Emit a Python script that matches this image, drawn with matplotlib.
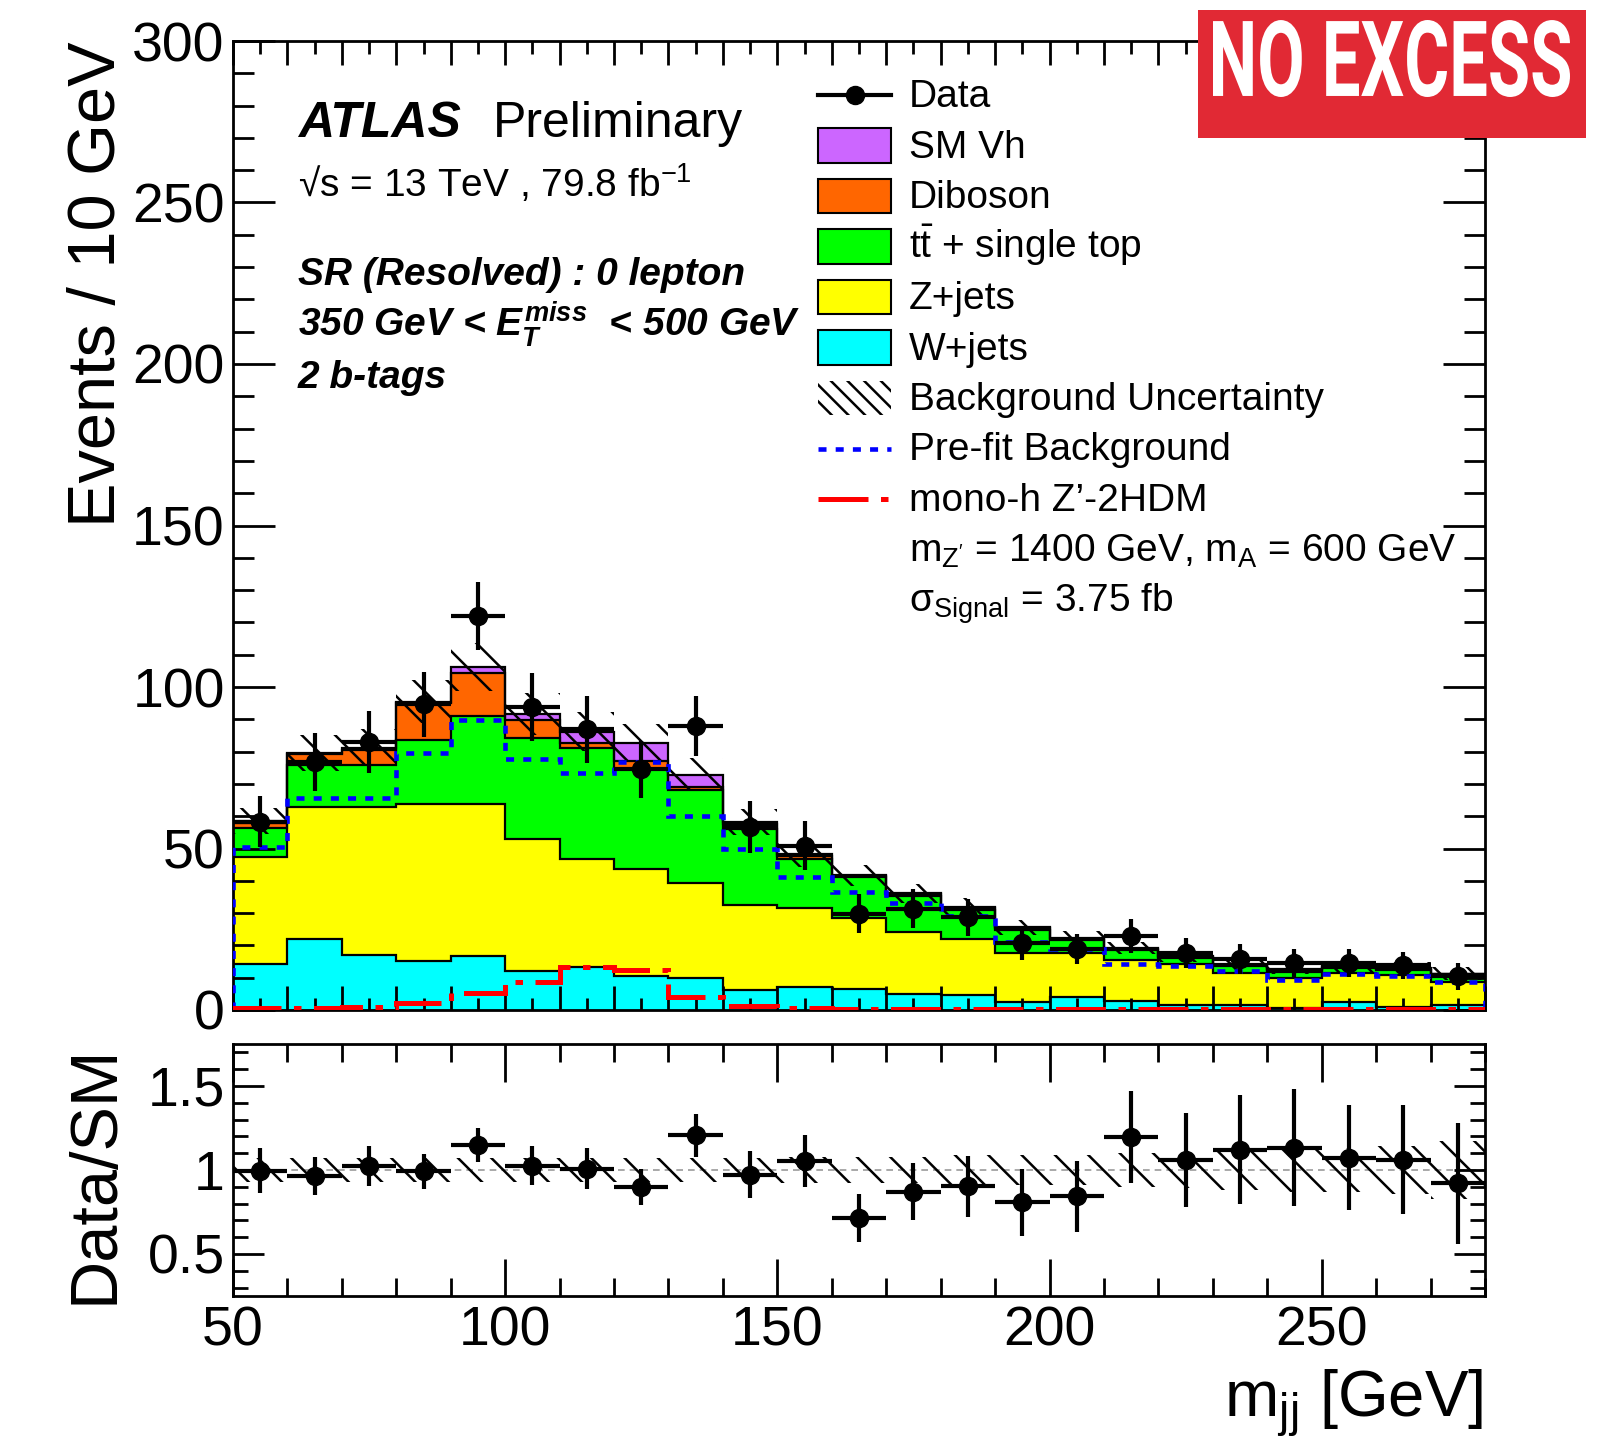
import numpy as np
import matplotlib
matplotlib.use("Agg")
import matplotlib.pyplot as plt
from matplotlib.patches import Rectangle, PathPatch
from matplotlib.lines import Line2D
from matplotlib.textpath import TextPath
from matplotlib.font_manager import FontProperties
from matplotlib.transforms import Affine2D, IdentityTransform
from matplotlib.ticker import MultipleLocator, FormatStrFormatter

# ---------------------------------------------------------------- data
bin_edges = list(range(50, 290, 10))          # m_jj bins [GeV]

wjets   = [14.2, 22.0, 16.9, 15.2, 16.8, 12.1, 13.2, 10.5, 9.8, 6.2, 7.1, 6.4,
           4.8, 4.5, 2.5, 4.0, 2.8, 1.7, 1.7, 0.7, 2.5, 1.0, 1.4]
zjets   = [33.3, 40.9, 46.0, 48.6, 47.0, 40.8, 33.4, 33.3, 29.4, 26.2, 24.4, 22.0,
           19.5, 17.4, 15.3, 13.6, 12.8, 12.4, 9.8, 9.2, 9.0, 9.7, 7.2]
ttbar   = [9.0, 13.0, 13.0, 19.8, 27.3, 31.2, 34.4, 30.7, 28.9, 23.7, 15.4, 12.8,
           11.0, 9.1, 7.0, 4.1, 3.1, 2.0, 2.0, 2.0, 1.5, 1.8, 2.4]
diboson = [1.5, 3.3, 4.6, 11.5, 13.3, 5.7, 1.8, 2.6, 1.0, 1.4, 0.9, 0.2,
           0.5, 0.5, 0.5, 0.3, 0.3, 0.3, 0.4, 0.5, 0.3, 0.3, 0.2]
smvh    = [0.5, 0.4, 0.7, 0.4, 1.7, 1.8, 3.4, 5.7, 3.7, 0.7, 0.4, 0.3,
           0.3, 0.3, 0.3, 0.3, 0.2, 0.2, 0.2, 0.3, 0.2, 0.2, 0.1]

prefit  = [50.6, 65.5, 65.5, 79.5, 89.8, 77.6, 73.3, 76.9, 60.1, 49.8, 41.2, 36.6,
           33.0, 29.0, 21.2, 18.9, 14.1, 13.5, 12.0, 9.4, 11.0, 10.5, 8.6]
signal  = [0.5, 0.5, 1.0, 2.1, 5.4, 8.8, 13.2, 12.4, 3.9, 1.2, 0.7, 0.4,
           0.3, 0.3, 0.2, 0.2, 0.2, 0.2, 0.2, 0.2, 0.2, 0.2, 0.2]

data    = [58.3, 76.9, 83.1, 94.7, 122.0, 93.9, 86.9, 74.5, 87.9, 56.6, 50.8, 29.8,
           31.4, 28.7, 20.7, 18.8, 23.0, 17.6, 15.8, 14.4, 14.5, 13.8, 10.4]
# statistical uncertainty of data relative to the SM prediction
ratio_err = [0.135, 0.113, 0.118, 0.105, 0.10, 0.115, 0.12, 0.107, 0.128, 0.138,
             0.157, 0.143, 0.17, 0.18, 0.20, 0.21, 0.275, 0.28, 0.325, 0.35,
             0.315, 0.325, 0.36]
# relative background uncertainty
bkg_unc = [0.07, 0.07, 0.07, 0.07, 0.07, 0.07, 0.07, 0.07, 0.07, 0.07, 0.08, 0.08,
           0.08, 0.09, 0.09, 0.09, 0.10, 0.11, 0.12, 0.13, 0.13, 0.14, 0.17]

# ---------------------------------------------------------------- style
plt.rcParams["font.family"] = ["Liberation Sans", "DejaVu Sans"]
plt.rcParams["mathtext.fontset"] = "custom"
plt.rcParams["mathtext.rm"] = "Liberation Sans"
plt.rcParams["mathtext.it"] = "Liberation Sans:italic:bold"
plt.rcParams["mathtext.bf"] = "Liberation Sans:bold"
plt.rcParams["hatch.linewidth"] = 1.8

W, H, DPI = 1613, 1441, 100
fig = plt.figure(figsize=(W / DPI, H / DPI), dpi=DPI)


def fx(x):
    return x / W


def fy(y):
    return 1 - y / H


def axes_px(x0, y0, x1, y1):
    return fig.add_axes([fx(x0), fy(y1), (x1 - x0) / W, (y1 - y0) / H])


ax = axes_px(233, 41, 1485, 1010)
rax = axes_px(233, 1044, 1485, 1296)

edges = np.array(bin_edges, dtype=float)
centers = 0.5 * (edges[:-1] + edges[1:])
half = 0.5 * np.diff(edges)

SIG_LS = (0, (10, 2.5, 1.5, 2.5))
PRE_LS = (0, (1.75, 2.0))

# ---------------------------------------------------------------- main panel
layers = [(wjets, "#00ffff"), (zjets, "#ffff00"), (ttbar, "#00ff00"),
          (diboson, "#ff6600"), (smvh, "#cc66ff")]
base = np.zeros(len(centers))
for vals, col in layers:
    top = base + np.asarray(vals)
    ax.stairs(top, edges, baseline=base, fill=True, facecolor=col,
              edgecolor="none", lw=0, zorder=1)
    ax.stairs(top, edges, baseline=None, color="k", lw=1.6, zorder=2)
    base = top
total = base
unc = np.asarray(bkg_unc)

ax.stairs(total * (1 + unc), edges, baseline=total * (1 - unc), fill=True,
          facecolor="none", edgecolor="k", hatch="\\", lw=0, zorder=3)
ax.stairs(prefit, edges, color="#0000ff", lw=3.3, ls=PRE_LS, zorder=4)
ax.stairs(signal, edges, color="#ff0000", lw=3.6, ls=SIG_LS, zorder=4)

data_arr = np.asarray(data)
ratio = data_arr / total
data_err = np.asarray(ratio_err) * total
ax.errorbar(centers, data_arr, yerr=data_err, xerr=half, fmt="o", color="k",
            ms=13, lw=3, capsize=0, zorder=6)

ax.set_xlim(50, 280)
ax.set_ylim(0, 300)
ax.xaxis.set_major_locator(MultipleLocator(10))
ax.xaxis.set_minor_locator(MultipleLocator(5))
ax.yaxis.set_major_locator(MultipleLocator(50))
ax.yaxis.set_minor_locator(MultipleLocator(10))
ax.tick_params(axis="both", which="both", direction="in", top=True, right=True,
               width=2, labelbottom=False)
ax.tick_params(axis="x", which="major", length=17)
ax.tick_params(axis="x", which="minor", length=9)
ax.tick_params(axis="y", which="major", length=30, labelsize=40, pad=6)
ax.tick_params(axis="y", which="minor", length=15)

# ---------------------------------------------------------------- ratio panel
rax.stairs(1 + unc, edges, baseline=1 - unc, fill=True, facecolor="none",
           edgecolor="k", hatch="\\", lw=0, zorder=2)
rax.axhline(1.0, color="0.6", lw=1.2, ls=(0, (4, 3)), zorder=1)
rax.errorbar(centers, ratio, yerr=ratio_err, xerr=half, fmt="o", color="k",
             ms=13, lw=3, capsize=0, zorder=6)
rax.set_xlim(50, 280)
rax.set_ylim(0.25, 1.75)
rax.xaxis.set_major_locator(MultipleLocator(50))
rax.xaxis.set_minor_locator(MultipleLocator(10))
rax.yaxis.set_major_locator(MultipleLocator(0.5))
rax.yaxis.set_minor_locator(MultipleLocator(0.1))
rax.yaxis.set_major_formatter(FormatStrFormatter("%g"))
rax.tick_params(axis="both", which="both", direction="in", top=True, right=True,
                width=2, labelsize=40)
rax.tick_params(axis="x", which="major", length=27, pad=7)
rax.tick_params(axis="x", which="minor", length=13)
rax.tick_params(axis="y", which="major", length=22, pad=6)
rax.tick_params(axis="y", which="minor", length=11)

for a in (ax, rax):
    for s in a.spines.values():
        s.set_linewidth(2)

# ---------------------------------------------------------------- axis titles
fig.text(fx(115), fy(41), "Events / 10 GeV", rotation=90, rotation_mode="anchor",
         ha="right", va="baseline", fontsize=48)
fig.text(fx(113), fy(1044), "Data/SM", rotation=90, rotation_mode="anchor",
         ha="right", va="baseline", fontsize=48)
fig.text(fx(1483), fy(1418), r"m$_{\mathrm{jj}}$ [GeV]", ha="right",
         va="baseline", fontsize=47)

# ---------------------------------------------------------------- labels
fig.text(fx(298), fy(137), "ATLAS", fontsize=36, fontweight="bold",
         fontstyle="italic", va="baseline")
fig.text(fx(493), fy(137), "Preliminary", fontsize=36, va="baseline")
fig.text(fx(298), fy(197), "\u221as = 13 TeV , 79.8 fb$^{-1}$", fontsize=28,
         va="baseline")
bi = dict(fontsize=28, fontweight="bold", fontstyle="italic", va="baseline")
fig.text(fx(298), fy(285), "SR (Resolved) : 0 lepton", **bi)
fig.text(fx(298), fy(336), r"350 GeV < $E_{T}^{miss}$  < 500 GeV", **bi)
fig.text(fx(298), fy(388), "2 b-tags", **bi)

# ---------------------------------------------------------------- legend
hx0, hx1, tx = 818, 891, 909
row0, drow = 95, 50.5
entries = [
    ("data", None, "Data"),
    ("box", "#cc66ff", "SM Vh"),
    ("box", "#ff6600", "Diboson"),
    ("box", "#00ff00", r"$\mathrm{t}\bar{\mathrm{t}}$ + single top"),
    ("box", "#ffff00", "Z+jets"),
    ("box", "#00ffff", "W+jets"),
    ("hatch", None, "Background Uncertainty"),
    ("prefit", None, "Pre-fit Background"),
    ("signal", None, "mono-h Z\u2019-2HDM"),
    (None, None, r"m$_{\mathrm{Z'}}$ = 1400 GeV, m$_{\mathrm{A}}$ = 600 GeV"),
    (None, None, "\u03c3" + r"$_{\mathrm{Signal}}$ = 3.75 fb"),
]
for i, (kind, col, label) in enumerate(entries):
    yc = row0 + i * drow
    if kind == "box":
        fig.add_artist(Rectangle((fx(hx0), fy(yc + 17)), (hx1 - hx0) / W, 34 / H,
                                 transform=fig.transFigure, facecolor=col,
                                 edgecolor="k", lw=1.5))
    elif kind == "hatch":
        fig.add_artist(Rectangle((fx(hx0), fy(yc + 17)), (hx1 - hx0) / W, 34 / H,
                                 transform=fig.transFigure, facecolor="none",
                                 edgecolor="k", hatch="\\\\", lw=0))
    elif kind == "data":
        fig.add_artist(Line2D([fx(hx0), fx(hx1)], [fy(yc), fy(yc)],
                              transform=fig.transFigure, color="k", lw=3))
        fig.add_artist(Line2D([fx(0.5 * (hx0 + hx1))], [fy(yc)],
                              transform=fig.transFigure, color="k", marker="o",
                              ms=13, lw=0))
    elif kind == "prefit":
        fig.add_artist(Line2D([fx(hx0), fx(hx1)], [fy(yc), fy(yc)],
                              transform=fig.transFigure, color="#0000ff", lw=3.3,
                              ls=PRE_LS))
    elif kind == "signal":
        fig.add_artist(Line2D([fx(hx0), fx(hx1)], [fy(yc), fy(yc)],
                              transform=fig.transFigure, color="#ff0000", lw=3.6,
                              ls=SIG_LS))
    fig.text(fx(tx), fy(yc + 12), label, fontsize=28, va="baseline")

# ---------------------------------------------------------------- badge
bx0, by0, bx1, by1 = 1198, 10, 1586, 138
fig.add_artist(Rectangle((bx0, H - by1), bx1 - bx0, by1 - by0,
                         transform=IdentityTransform(), facecolor="#e12934",
                         edgecolor="none", zorder=10))
tp = TextPath((0, 0), "NO EXCESS", size=100,
              prop=FontProperties(family="Roboto", weight="bold"))
ext = tp.get_extents()
gx0, gy0, gx1, gy1 = 1213, 20, 1570, 97
tr = (Affine2D().translate(-ext.x0, -ext.y0)
      .scale((gx1 - gx0) / ext.width, (gy1 - gy0) / ext.height)
      .translate(gx0, H - gy1))
fig.add_artist(PathPatch(tr.transform_path(tp), transform=IdentityTransform(),
                         facecolor="white", edgecolor="none", zorder=11))

fig.savefig("out.png", dpi=DPI)
